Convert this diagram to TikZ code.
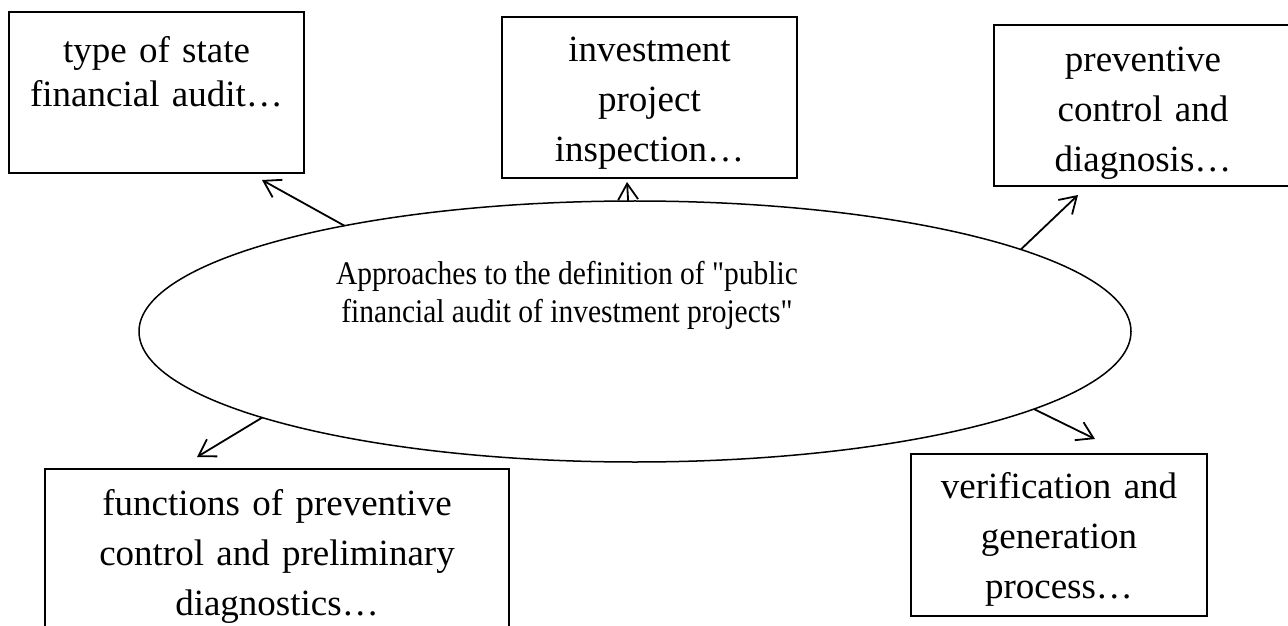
\documentclass[tikz,border=0pt]{standalone}
\usepackage{fontspec}
\setmainfont{Liberation Serif}
\usepackage{graphicx}
\usetikzlibrary{shapes.geometric}
\usetikzlibrary{arrows.meta}
\newcommand{\dquote}{\XeTeXglyph\XeTeXcharglyph"22\relax}

\begin{document}
\begin{tikzpicture}[x=1pt,y=1pt,
		box/.style={draw,line width=1.8pt,inner sep=0pt,outer sep=0pt,anchor=north west,align=center,font=\fontsize{37}{50}\selectfont},
		arr/.style={line width=1.8pt,-{Straight Barb[length=16pt,width=20pt]}}]
		\useasboundingbox (0,0) rectangle (1288,625);
		\node[ellipse,draw,line width=1.5pt,minimum width=992pt,minimum height=261pt,inner sep=0pt,outer sep=0pt] (approaches) at (635,293.5) {};
		\node (approachestext) at (567,329) {\fontsize{33}{38}\selectfont\scalebox{0.894}[1]{\begin{tabular}{@{}c@{}}Approaches to the definition of \dquote public\\financial audit of investment projects\dquote\end{tabular}}};
		\node[box,minimum width=295pt,text width=285pt,text height=51pt,text depth=110pt,font=\fontsize{37}{44}\selectfont] (audittype) at (9,613) {type of state\\financial audit…};
		\node[box,minimum width=295pt,text width=285pt,text height=45pt,text depth=116pt] (inspection) at (502,608) {investment\\project\\inspection…};
		\node[box,minimum width=298pt,text width=288pt,text height=47pt,text depth=114pt] (preventive) at (994,600) {preventive\\control and\\diagnosis…};
		\node[box,minimum width=464pt,text width=450pt,text height=46pt,text depth=125pt] (functions) at (45,156) {functions of preventive\\control and preliminary\\diagnostics…};
		\node[box,minimum width=296pt,text width=286pt,text height=44pt,text depth=118pt] (verification) at (911,171) {verification and\\generation\\process…};
		\coordinate (tipaudit) at (262,445);
		\coordinate (tipinspection) at (627,443);
		\coordinate (tippreventive) at (1078,430);
		\coordinate (tipfunctions) at (197,168);
		\coordinate (tipverification) at (1095,186);
		\draw[arr] (approaches.160.5) -- (tipaudit);
		\draw[arr] (approaches.93.5) -- (tipinspection);
		\draw[arr] (approaches.12) -- (tippreventive);
		\draw[arr] (approaches.193) -- (tipfunctions);
		\draw[arr] (approaches.349.1) -- (tipverification);
	\end{tikzpicture}
\end{document}
